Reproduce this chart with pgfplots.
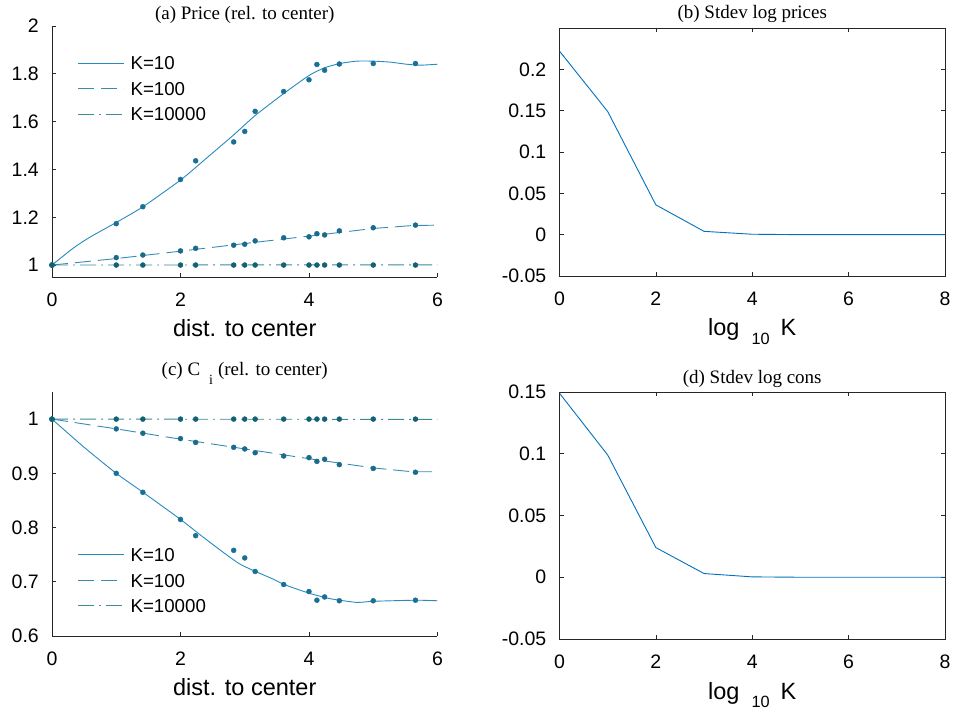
\documentclass[border=0pt]{standalone}
\usepackage{pgfplots}
\pgfplotsset{compat=1.18}
\usepackage{fontspec}
\setmainfont{Liberation Serif}
\newfontfamily\arial{Liberation Sans}

\definecolor{lineA}{rgb}{0.16,0.54,0.74}
\definecolor{lineB}{rgb}{0.22,0.55,0.70}
\definecolor{lineC}{rgb}{0.24,0.54,0.60}
\definecolor{dotA}{rgb}{0.10,0.44,0.59}
\definecolor{dotB}{rgb}{0.10,0.42,0.55}
\definecolor{dotC}{rgb}{0.08,0.38,0.45}
\definecolor{mblue}{rgb}{0,0.447,0.741}
\definecolor{axc}{rgb}{0.15,0.15,0.15}

\pgfplotsset{
 myax/.style={
  scale only axis, width=385.5pt,
  anchor=south west,
  tick align=inside, major tick length=4pt,
  axis line style={draw=axc, line width=0.7pt, -},
  every tick/.style={axc, line width=0.7pt},
  tick label style={font=\arial\fontsize{19.5}{20}\selectfont},
  scaled ticks=false,
  xticklabel style={anchor=base, yshift=-29.5pt, inner sep=0pt},
  yticklabel style={anchor=east, xshift=-13pt, inner sep=0pt},
  title style={font=\fontsize{19}{20}\selectfont, at={(axis description cs:0.5,1)}, anchor=base},
  xlabel style={font=\arial\fontsize{23.5}{24}\selectfont, at={(axis description cs:0.5,0)}, anchor=base, yshift=-60pt},
  legend style={draw=none, fill=none, font=\arial\fontsize{18.7}{19}\selectfont, anchor=north west, inner sep=0pt, row sep=12pt, column sep=6pt, nodes={inner sep=0pt, text height=13.5pt, text depth=0pt}},
  legend cell align=left,
  legend image code/.code={\draw[#1] (0pt,0pt) -- (46pt,0pt);},
 },
 boxoff/.style={axis lines*=left, xtick pos=bottom, ytick pos=left},
 lA/.style={color=lineA, line width=0.9pt, smooth, tension=0.35},
 lB/.style={color=lineB, line width=0.9pt, dash pattern=on 16pt off 7pt},
 lC/.style={color=lineC, line width=0.9pt, dash pattern=on 16pt off 5pt on 2pt off 5pt},
 dA/.style={only marks, mark=*, mark size=2.5pt, color=dotA, forget plot},
 dB/.style={only marks, mark=*, mark size=2.5pt, color=dotB, forget plot},
 dC/.style={only marks, mark=*, mark size=2.5pt, color=dotC, forget plot},
}

\begin{document}
\begin{tikzpicture}
\path[use as bounding box] (0pt,0pt) rectangle (953pt,717pt);

% (a)
\begin{axis}[myax, boxoff, at={(52pt,440pt)}, height=251pt,
  xmin=0, xmax=6, ymin=0.95, ymax=2,
  xtick={0,2,4,6}, xticklabels={0,2,4,6},
  ytick={1,1.2,1.4,1.6,1.8,2}, yticklabels={1,1.2,1.4,1.6,1.8,2},
  title={(a) Price (rel. to center)}, title style={yshift=0pt},
  xlabel={dist. to center},
  legend style={at={(axis description cs:0.066,0.88)}}]
\addplot[lA] coordinates {(0,1) (0.327,1.07) (0.586,1.116) (1.0,1.178) (1.417,1.244) (2.008,1.357) (2.4,1.446) (2.83,1.545) (3.16,1.625) (3.61,1.718) (4.0,1.793) (4.24,1.825) (4.48,1.843) (4.74,1.853) (5.0,1.853) (5.26,1.849) (5.52,1.84) (5.73,1.836) (6.0,1.84)};
\addlegendentry{K=10}
\addplot[lB] coordinates {(0,1) (1,1.027) (2,1.058) (3,1.09) (4,1.121) (5,1.153) (5.6,1.165) (6,1.167)};
\addlegendentry{K=100}
\addplot[lC] coordinates {(0,1) (6,1.001)};
\addlegendentry{K=10000}
\addplot[dA] coordinates {(0,1) (1,1.173) (1.414,1.244) (2,1.358) (2.236,1.436) (2.828,1.515) (3,1.559) (3.162,1.643) (3.606,1.726) (4,1.775) (4.123,1.839) (4.243,1.815) (4.472,1.841) (5,1.843) (5.657,1.843)};
\addplot[dB] coordinates {(0,1) (1,1.031) (1.414,1.042) (2,1.059) (2.236,1.070) (2.828,1.083) (3,1.087) (3.162,1.101) (3.606,1.114) (4,1.118) (4.123,1.131) (4.243,1.126) (4.472,1.143) (5,1.156) (5.657,1.167)};
\addplot[dC] coordinates {(0,1) (1,1) (1.414,1) (2,1) (2.236,1) (2.828,1) (3,1) (3.162,1) (3.606,1) (4,1) (4.123,1) (4.243,1) (4.472,1) (5,1) (5.657,1)};
\end{axis}

% (b)
\begin{axis}[myax, at={(559.5pt,441pt)}, height=248pt,
  xmin=0, xmax=8, ymin=-0.05, ymax=0.25,
  xtick={0,2,4,6,8}, xticklabels={0,2,4,6,8},
  ytick={-0.05,0,0.05,0.1,0.15,0.2}, yticklabels={-0.05,0,0.05,0.1,0.15,0.2},
  title={(b) Stdev log prices}, title style={yshift=3.5pt},
  xlabel={log\hspace{12pt}\raisebox{-9pt}{\fontsize{16.3}{17}\selectfont 10}\hspace{11pt}K}]
\addplot[color=mblue, line width=0.9pt] coordinates {(0,0.222) (1,0.149) (2,0.036) (3,0.004) (4,0.0005) (5,0) (6,0) (7,0) (8,0)};
\end{axis}

% (c)
\begin{axis}[myax, boxoff, at={(52pt,81pt)}, height=244pt,
  xmin=0, xmax=6, ymin=0.6, ymax=1.05,
  xtick={0,2,4,6}, xticklabels={0,2,4,6},
  ytick={0.6,0.7,0.8,0.9,1}, yticklabels={0.6,0.7,0.8,0.9,1},
  title={(c) C\hspace{9pt}\raisebox{-9pt}{\fontsize{14}{14}\selectfont i}\hspace{5pt}(rel. to center)}, title style={yshift=10pt},
  xlabel={dist. to center},
  legend style={at={(axis description cs:0.066,0.361)}}]
\addplot[lA] coordinates {(0,1) (0.5,0.948) (1.0,0.9) (1.417,0.865) (2.0,0.815) (2.4,0.778) (2.92,0.733) (3.44,0.705) (3.61,0.695) (4.0,0.679) (4.32,0.669) (4.74,0.662) (5.0,0.664) (5.66,0.666) (6.0,0.665)};
\addlegendentry{K=10}
\addplot[lB] coordinates {(0,1) (1,0.982) (2,0.963) (3,0.945) (4,0.927) (5,0.91) (5.6,0.903) (6,0.903)};
\addlegendentry{K=100}
\addplot[lC] coordinates {(0,1) (6,0.9995)};
\addlegendentry{K=10000}
\addplot[dA] coordinates {(0,1) (1,0.900) (1.414,0.865) (2,0.815) (2.236,0.785) (2.828,0.758) (3,0.744) (3.162,0.719) (3.606,0.695) (4,0.682) (4.123,0.666) (4.243,0.672) (4.472,0.665) (5,0.665) (5.657,0.666)};
\addplot[dB] coordinates {(0,1) (1,0.982) (1.414,0.974) (2,0.964) (2.236,0.957) (2.828,0.948) (3,0.945) (3.162,0.938) (3.606,0.932) (4,0.929) (4.123,0.922) (4.243,0.926) (4.472,0.916) (5,0.909) (5.657,0.902)};
\addplot[dC] coordinates {(0,1) (1,1) (1.414,1) (2,1) (2.236,1) (2.828,1) (3,1) (3.162,1) (3.606,1) (4,1) (4.123,1) (4.243,1) (4.472,1) (5,1) (5.657,1)};
\end{axis}

% (d)
\begin{axis}[myax, at={(559.5pt,78pt)}, height=247pt,
  xmin=0, xmax=8, ymin=-0.05, ymax=0.15,
  xtick={0,2,4,6,8}, xticklabels={0,2,4,6,8},
  ytick={-0.05,0,0.05,0.1,0.15}, yticklabels={-0.05,0,0.05,0.1,0.15},
  title={(d) Stdev log cons}, title style={yshift=2pt},
  xlabel={log\hspace{12pt}\raisebox{-9pt}{\fontsize{16.3}{17}\selectfont 10}\hspace{11pt}K}]
\addplot[color=mblue, line width=0.9pt] coordinates {(0,0.149) (1,0.099) (2,0.024) (3,0.003) (4,0.0003) (5,0) (6,0) (7,0) (8,0)};
\end{axis}
\end{tikzpicture}
\end{document}
